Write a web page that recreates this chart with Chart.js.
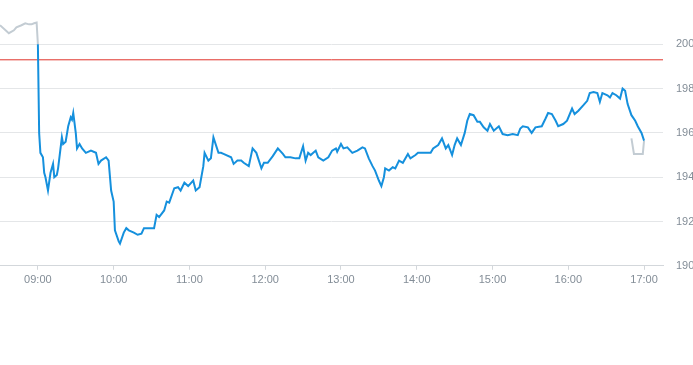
<!DOCTYPE html>
<html>
<head>
<meta charset="utf-8">
<script src="https://cdn.jsdelivr.net/npm/chart.js@4.4.1/dist/chart.umd.min.js"></script>
<style>
  html, body { margin: 0; padding: 0; background: #fff; overflow: hidden; }
  #wrap { position: relative; width: 693px; height: 291px; }
</style>
</head>
<body>
<div id="wrap"><canvas id="chart"></canvas></div>
<script>
// pre-market (grey)
const preTimes = ['08:30', '08:37', '08:41', '08:43', '08:47', '08:50', '08:53', '08:55', '08:57', '08:59', '09:00'];
const prePrices = [200.86, 200.5, 200.63, 200.77, 200.86, 200.95, 200.9, 200.9, 200.95, 200.98, 200.0];

// regular session (blue)
const sessionTimes = [
    '09:00', '09:01', '09:02', '09:04', '09:05', '09:06', '09:08', '09:10', '09:12', '09:13',
    '09:15', '09:16', '09:19', '09:20', '09:22', '09:24', '09:26', '09:27', '09:28', '09:30',
    '09:31', '09:33', '09:35', '09:38', '09:42', '09:46', '09:48', '09:50', '09:54', '09:56',
    '09:58', '10:00', '10:01', '10:04', '10:05', '10:08', '10:10', '10:12', '10:16', '10:19',
    '10:22', '10:24', '10:28', '10:32', '10:34', '10:36', '10:40', '10:42', '10:44', '10:48',
    '10:51', '10:53', '10:56', '10:59', '11:03', '11:05', '11:08', '11:11', '11:12', '11:15',
    '11:17', '11:19', '11:23', '11:25', '11:27', '11:33', '11:35', '11:38', '11:41', '11:43',
    '11:47', '11:50', '11:53', '11:55', '11:57', '11:59', '12:02', '12:06', '12:10', '12:14',
    '12:16', '12:20', '12:24', '12:27', '12:30', '12:32', '12:34', '12:36', '12:40', '12:42',
    '12:46', '12:50', '12:53', '12:56', '12:57', '13:00', '13:02', '13:05', '13:09', '13:13',
    '13:17', '13:19', '13:22', '13:25', '13:27', '13:30', '13:32', '13:34', '13:35', '13:38',
    '13:41', '13:43', '13:46', '13:49', '13:53', '13:55', '13:59', '14:01', '14:05', '14:11',
    '14:13', '14:17', '14:20', '14:23', '14:25', '14:28', '14:30', '14:32', '14:35', '14:38',
    '14:40', '14:42', '14:45', '14:48', '14:50', '14:53', '14:56', '14:58', '15:01', '15:05',
    '15:08', '15:12', '15:16', '15:20', '15:22', '15:24', '15:28', '15:31', '15:34', '15:39',
    '15:42', '15:44', '15:47', '15:50', '15:52', '15:56', '15:59', '16:03', '16:05', '16:08',
    '16:12', '16:15', '16:17', '16:20', '16:23', '16:25', '16:27', '16:31', '16:33', '16:35',
    '16:38', '16:41', '16:43', '16:45', '16:47', '16:50', '16:53', '16:55', '16:58', '17:00'
];
const sessionPrices = [
    200.0, 196.0, 195.1, 194.9, 194.2, 194.0, 193.4, 194.2, 194.6, 194.0,
    194.1, 194.4, 195.8, 195.5, 195.6, 196.3, 196.7, 196.6, 196.9, 196.0,
    195.3, 195.5, 195.3, 195.1, 195.2, 195.1, 194.6, 194.75, 194.9, 194.75,
    193.4, 192.9, 191.6, 191.1, 191.0, 191.5, 191.7, 191.6, 191.5, 191.4,
    191.45, 191.7, 191.7, 191.7, 192.3, 192.2, 192.5, 192.9, 192.85, 193.5,
    193.55, 193.4, 193.75, 193.6, 193.85, 193.4, 193.55, 194.5, 195.1, 194.75,
    194.85, 195.8, 195.1, 195.1, 195.05, 194.9, 194.6, 194.75, 194.75, 194.65,
    194.5, 195.3, 195.1, 194.75, 194.4, 194.65, 194.65, 194.95, 195.3, 195.05,
    194.9, 194.9, 194.85, 194.85, 195.4, 194.75, 195.1, 195.0, 195.2, 194.9,
    194.75, 194.9, 195.2, 195.3, 195.15, 195.5, 195.3, 195.35, 195.1, 195.2,
    195.35, 195.3, 194.85, 194.5, 194.3, 193.85, 193.6, 194.0, 194.4, 194.3,
    194.45, 194.4, 194.75, 194.65, 195.05, 194.85, 195.0, 195.1, 195.1, 195.1,
    195.3, 195.45, 195.75, 195.3, 195.45, 195.0, 195.45, 195.75, 195.45, 196.0,
    196.55, 196.85, 196.8, 196.5, 196.5, 196.25, 196.1, 196.4, 196.1, 196.3,
    195.95, 195.9, 195.95, 195.9, 196.2, 196.3, 196.25, 196.0, 196.25, 196.3,
    196.65, 196.9, 196.85, 196.55, 196.3, 196.4, 196.55, 197.1, 196.85, 197.0,
    197.25, 197.45, 197.8, 197.85, 197.8, 197.4, 197.8, 197.7, 197.6, 197.8,
    197.7, 197.55, 198.0, 197.9, 197.3, 196.8, 196.55, 196.3, 196.0, 195.65
];

// after hours (grey)
const postTimes = ['16:50', '16:52', '16:59', '17:00'];
const postPrices = [195.75, 195.05, 195.05, 195.65];

const previousClose = 199.3;

const xStart = '08:30';
const xEnd = '17:15';
const hourTicks = ['09:00', '10:00', '11:00', '12:00', '13:00', '14:00', '15:00', '16:00', '17:00'];
const priceTicks = [190, 192, 194, 196, 198, 200];
const priceMin = 190;
const priceMax = 202;

function toMin(t) {
    const parts = t.split(':');
    return Number(parts[0]) * 60 + Number(parts[1]);
}

function fmt(m) {
    const h = Math.floor(m / 60);
    const mm = m % 60;
    return String(h).padStart(2, '0') + ':' + String(mm).padStart(2, '0');
}

function points(times, prices) {
    return times.map((t, i) => ({ x: toMin(t), y: prices[i] }));
}

const BLUE = '#1590dd';
const GREY = '#c3ccd3';
const LABEL = '#838d97';

const CTX = document.getElementById('chart').getContext('2d');
const CHART = new Chart(CTX, {
    type: 'line',
    data: {
        datasets: [
            {
                label: 'Previous close',
                data: [{ x: toMin(xStart), y: previousClose }, { x: toMin(xEnd), y: previousClose }],
                borderColor: '#e0332b',
                borderWidth: 1,
                pointRadius: 0,
                order: 3
            },
            {
                label: 'Pre-market',
                data: points(preTimes, prePrices),
                borderColor: GREY,
                borderWidth: 2,
                pointRadius: 0,
                order: 2
            },
            {
                label: 'After hours',
                data: points(postTimes, postPrices),
                borderColor: GREY,
                borderWidth: 2,
                pointRadius: 0,
                order: 2
            },
            {
                label: 'Price',
                data: points(sessionTimes, sessionPrices),
                borderColor: BLUE,
                borderWidth: 2,
                pointRadius: 0,
                order: 1
            }
        ]
    },
    options: {
        responsive: true,
        maintainAspectRatio: false,
        animation: false,
        layout: { padding: 0 },
        plugins: {
            legend: { display: false },
            tooltip: { enabled: false }
        },
        scales: {
            x: {
                type: 'linear',
                min: toMin(xStart),
                max: toMin(xEnd),
                afterBuildTicks: function(scale) {
                    scale.ticks = hourTicks.map(t => ({ value: toMin(t) }));
                },
                ticks: {
                    color: LABEL,
                    font: { family: 'Liberation Sans', size: 11 },
                    padding: 4,
                    maxRotation: 0,
                    autoSkip: false,
                    callback: function(v) { return fmt(v); }
                },
                grid: {
                    drawOnChartArea: false,
                    drawTicks: true,
                    tickLength: 4,
                    color: '#d3d7db'
                },
                border: { color: '#d3d7db' }
            },
            y: {
                position: 'right',
                min: priceMin,
                max: priceMax,
                afterBuildTicks: function(scale) {
                    scale.ticks = priceTicks.map(v => ({ value: v }));
                },
                afterFit: function(scale) {
                    scale.width = 30;
                    scale.paddingTop = 0;
                    scale.paddingBottom = 0;
                },
                ticks: {
                    color: LABEL,
                    font: { family: 'Liberation Sans', size: 11 },
                    padding: 13
                },
                grid: {
                    drawTicks: false,
                    color: '#e4e6e8'
                },
                border: { display: false }
            }
        }
    }
});
</script>
</body>
</html>
